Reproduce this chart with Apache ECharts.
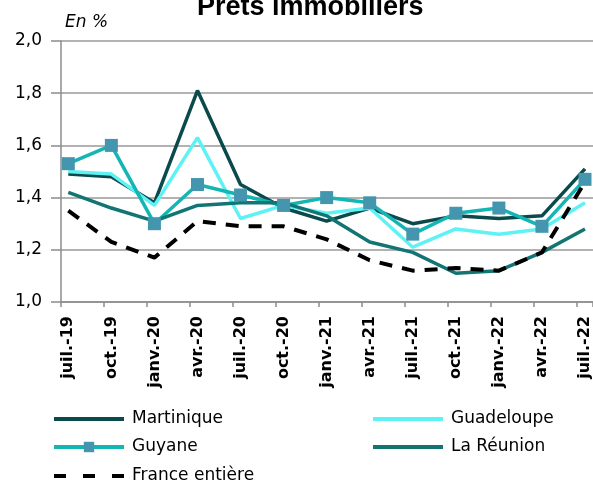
<!DOCTYPE html>
<html><head><meta charset="utf-8">
<script src="https://cdn.jsdelivr.net/npm/echarts@6/dist/echarts.min.js"></script>
<style>html,body{margin:0;padding:0;background:#fff}#c{width:593px;height:484px}</style>
</head><body><div id="c"></div>
<script>
const categories = ['juil.-19','oct.-19','janv.-20','avr.-20','juil.-20','oct.-20','janv.-21','avr.-21','juil.-21','oct.-21','janv.-22','avr.-22','juil.-22'];
const martinique = [1.49,1.48,1.38,1.81,1.45,1.36,1.31,1.36,1.30,1.33,1.32,1.33,1.51];
const guadeloupe = [1.50,1.49,1.37,1.63,1.32,1.37,1.34,1.36,1.21,1.28,1.26,1.28,1.38];
const guyane     = [1.53,1.60,1.30,1.45,1.41,1.37,1.40,1.38,1.26,1.34,1.36,1.29,1.47];
const reunion    = [1.42,1.36,1.31,1.37,1.38,1.38,1.33,1.23,1.19,1.11,1.12,1.19,1.28];
const france     = [1.35,1.23,1.17,1.31,1.29,1.29,1.24,1.16,1.12,1.13,1.12,1.19,1.46];
const seriesNames = ['Martinique','Guadeloupe','Guyane','La Réunion','France entière'];
const titleText = 'Prêts immobiliers';
const unitText = 'En %';

const FONT = 'DejaVu Sans';
const chart = echarts.init(document.getElementById('c'), null, {renderer:'canvas'});
const gridTop = 41, gridBottom = 182;
function leg(name, left, centerY, marker, dash) {
  const ls = {width: 4};
  if (dash) ls.type = dash;
  return {left: left, top: centerY - 10, padding: 0, orient: 'horizontal',
    itemWidth: 70, itemHeight: marker ? 13 : 3, data: [name], lineStyle: ls,
    textStyle: {fontFamily: FONT, fontSize: 17, lineHeight: 20, color: '#000', padding: [0,0,0,3]}};
}
chart.setOption({
  animation: false,
  backgroundColor: '#fff',
  title: [
    {text: titleText, left: 197, top: -6, padding: 0,
     textStyle: {fontFamily: 'Liberation Sans', fontWeight: 'bold', fontSize: 27, color: '#000'}},
    {text: unitText, left: 65, top: 14, padding: 0,
     textStyle: {fontFamily: FONT, fontStyle: 'italic', fontWeight: 'normal', fontSize: 17, color: '#000'}}
  ],
  grid: [
    {left: 61, right: -2, top: gridTop, bottom: gridBottom},
    {left: 68.3, right: 6.4, top: gridTop, bottom: gridBottom}
  ],
  xAxis: [
    {type: 'value', gridIndex: 0, min: 0, max: 534/43.17, interval: 1,
     axisLine: {show: true, lineStyle: {color: '#8c8c8c', width: 1.5}},
     axisTick: {show: true, length: 5, lineStyle: {color: '#8c8c8c', width: 1.5}},
     axisLabel: {show: false}, splitLine: {show: false}},
    {type: 'category', gridIndex: 1, data: categories, boundaryGap: false,
     axisLine: {show: false}, axisTick: {show: false}, splitLine: {show: false},
     axisLabel: {show: true, rotate: 90, margin: 14, interval: 0,
       fontFamily: FONT, fontWeight: 'bold', fontSize: 16, color: '#000'}}
  ],
  yAxis: [
    {type: 'value', gridIndex: 0, min: 1, max: 2, interval: 0.2,
     axisLine: {show: true, lineStyle: {color: '#8c8c8c', width: 1.5}},
     axisTick: {show: true, length: 10, lineStyle: {color: '#8c8c8c', width: 1.5}},
     splitLine: {show: true, lineStyle: {color: '#999', width: 1.5}},
     axisLabel: {show: true, margin: 19, fontFamily: FONT, fontSize: 17, color: '#000',
       formatter: v => v.toFixed(1).replace('.', ',')}},
    {type: 'value', gridIndex: 1, min: 1, max: 2, show: false}
  ],
  legend: [
    leg(seriesNames[0], 52, 419, false),
    leg(seriesNames[2], 52, 447, true),
    leg(seriesNames[4], 52, 476, false, [12, 17]),
    leg(seriesNames[1], 371, 419, false),
    leg(seriesNames[3], 371, 447, false)
  ],
  series: [
    {name: seriesNames[0], type: 'line', xAxisIndex: 1, yAxisIndex: 1, data: martinique,
     symbol: 'none', lineStyle: {color: '#0B4A4C', width: 3.5}, itemStyle: {color: '#0B4A4C'}},
    {name: seriesNames[1], type: 'line', xAxisIndex: 1, yAxisIndex: 1, data: guadeloupe,
     symbol: 'none', lineStyle: {color: '#5EF2F5', width: 3.5}, itemStyle: {color: '#5EF2F5'}},
    {name: seriesNames[2], type: 'line', xAxisIndex: 1, yAxisIndex: 1, data: guyane,
     symbol: 'rect', symbolSize: 13, lineStyle: {color: '#14B5B5', width: 3.5}, itemStyle: {color: '#4396AE'}},
    {name: seriesNames[3], type: 'line', xAxisIndex: 1, yAxisIndex: 1, data: reunion,
     symbol: 'none', lineStyle: {color: '#137474', width: 3.5}, itemStyle: {color: '#137474'}},
    {name: seriesNames[4], type: 'line', xAxisIndex: 1, yAxisIndex: 1, data: france,
     symbol: 'none', lineStyle: {color: '#000', width: 4, type: [13, 10]}, itemStyle: {color: '#000'}}
  ]
});
</script></body></html>
